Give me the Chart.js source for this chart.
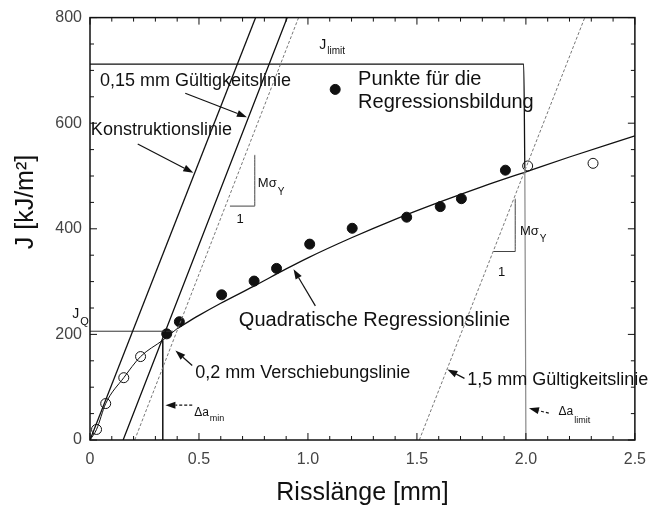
<!DOCTYPE html>
<html>
<head>
<meta charset="utf-8">
<script src="https://cdn.jsdelivr.net/npm/chart.js@4.4.0/dist/chart.umd.min.js"></script>
<style>
  html, body { margin: 0; padding: 0; background: #fff; }
</style>
</head>
<body>
<canvas id="myChart" width="656" height="513"></canvas>
<script>
// measured points (open = not used for regression, filled = used)
const openX = [0.03, 0.072, 0.155, 0.232, 2.008, 2.308];
const openJ = [20, 69, 118, 158, 519, 524];
const fillX = [0.352, 0.41, 0.604, 0.753, 0.856, 1.008, 1.203, 1.453, 1.607, 1.704, 1.906];
const fillJ = [201, 224, 275, 301, 325, 371, 401, 422, 442, 457, 511];

// measured curve up to J_Q, then the quadratic regression line
const startX = [0, 0.03, 0.072, 0.155, 0.232, 0.334, 0.40];
const startJ = [0, 20, 69, 118, 158, 189, 211];
const regX = [0.40, 0.5, 0.6, 0.75, 0.9, 1.0, 1.2, 1.4, 1.6, 1.8, 2.0, 2.2, 2.5];
const regJ = [211, 236, 259, 291, 324, 345, 383, 418, 450, 480, 508, 536, 576];

// construction / validity lines (J = 0 .. 800)
const lineJ = [0, 800];
const konstrX = [0, 0.76];
const g015X = [0.152, 0.905];
const v02X = [0.205, 0.957];
const g15X = [1.511, 2.27];

// limits
const jlimX = [0, 1.99, 1.995];
const jlimJ = [712, 712, 515];
const alimX = [1.995, 2.0];
const alimJ = [515, 0];
const jqX = [0, 0.38];
const jqJ = [206, 206];
const aminX = [0.334, 0.334];
const aminJ = [0, 189];

// slope triangles
const tri1X = [0.642, 0.756, 0.756];
const tri1J = [443, 443, 540];
const tri2X = [1.85, 1.951, 1.951];
const tri2J = [357, 357, 457];

// legend marker
const legX = [1.125];
const legJ = [664];

const xTicks = [0, 0.5, 1.0, 1.5, 2.0, 2.5];
const yTicks = [0, 200, 400, 600, 800];

function pts(xs, ys) { return xs.map((x, i) => ({ x: x, y: ys[i] })); }
function lineDs(xs, ys, color, width, dash) {
    return {
        data: pts(xs, ys), showLine: true, pointRadius: 0, borderColor: color,
        borderWidth: width, borderDash: dash || [], fill: false, tension: 0
    };
}

const FONT = "'Liberation Sans', Arial, sans-serif";

// annotation texts (data coordinates), optional subscript
const labels = [
    { t: '0,15 mm Gültigkeitslinie', x: 0.0456, y: 679, s: 18 },
    { t: 'Konstruktionslinie', x: 0.004, y: 587, s: 18 },
    { t: 'Punkte für die', x: 1.23, y: 683, s: 20 },
    { t: 'Regressionsbildung', x: 1.23, y: 640, s: 20 },
    { t: 'Quadratische Regressionslinie', x: 0.683, y: 226, s: 20 },
    { t: '0,2 mm Verschiebungslinie', x: 0.483, y: 126, s: 18 },
    { t: '1,5 mm Gültigkeitslinie', x: 1.731, y: 113, s: 18 },
    { t: 'J', sub: 'limit', x: 1.052, y: 748, s: 14, ss: 10, dy: 6 },
    { t: 'Mσ', sub: 'Y', x: 0.77, y: 485, s: 13, ss: 10, dy: 8 },
    { t: '1', x: 0.672, y: 418, s: 13 },
    { t: 'Mσ', sub: 'Y', x: 1.973, y: 395, s: 13, ss: 10, dy: 8 },
    { t: '1', x: 1.872, y: 317, s: 13 },
    { t: 'J', sub: 'Q', x: -0.082, y: 239, s: 14, ss: 11, dy: 8 },
    { t: 'Δa', sub: 'min', x: 0.478, y: 51, s: 12, ss: 9, dy: 5 },
    { t: 'Δa', sub: 'limit', x: 2.150, y: 53, s: 12, ss: 9, dy: 8 }
];

// arrows: tail -> head (data coordinates)
const arrows = [
    { x1: 0.437, y1: 656.6, x2: 0.72, y2: 611.5 },
    { x1: 0.219, y1: 560.7, x2: 0.474, y2: 506.1 },
    { x1: 1.034, y1: 254, x2: 0.934, y2: 323.6 },
    { x1: 0.469, y1: 141, x2: 0.392, y2: 169.3 },
    { x1: 0.469, y1: 65.9, x2: 0.346, y2: 65.9, dash: true },
    { x1: 1.718, y1: 116.7, x2: 1.640, y2: 133.6 },
    { x1: 2.105, y1: 50.8, x2: 2.014, y2: 60.2, dash: true }
];

const decor = {
    id: 'decor',
    afterDraw(c) {
        const ctx = c.ctx, ca = c.chartArea;
        const xs = c.scales.x, ys = c.scales.y;
        ctx.save();
        // frame
        ctx.strokeStyle = '#111';
        ctx.lineWidth = 1.5;
        ctx.strokeRect(ca.left, ca.top, ca.right - ca.left, ca.bottom - ca.top);
        // inside ticks
        ctx.lineWidth = 1;
        for (let i = 0; i <= 25; i++) {
            const p = xs.getPixelForValue(i / 10);
            const len = i % 5 === 0 ? 7 : 4;
            ctx.beginPath();
            ctx.moveTo(p, ca.bottom); ctx.lineTo(p, ca.bottom - len);
            ctx.moveTo(p, ca.top); ctx.lineTo(p, ca.top + len);
            ctx.stroke();
        }
        for (let v = 0; v <= 800; v += 50) {
            const p = ys.getPixelForValue(v);
            const len = v % 200 === 0 ? 7 : 4;
            ctx.beginPath();
            ctx.moveTo(ca.left, p); ctx.lineTo(ca.left + len, p);
            ctx.moveTo(ca.right, p); ctx.lineTo(ca.right - len, p);
            ctx.stroke();
        }
        // texts
        ctx.fillStyle = '#111';
        ctx.textBaseline = 'middle';
        ctx.textAlign = 'left';
        labels.forEach(l => {
            const px = xs.getPixelForValue(l.x), py = ys.getPixelForValue(l.y);
            ctx.font = l.s + 'px ' + FONT;
            ctx.fillText(l.t, px, py);
            if (l.sub) {
                const w = ctx.measureText(l.t).width;
                ctx.font = l.ss + 'px ' + FONT;
                ctx.fillText(l.sub, px + w + 1, py + l.dy);
            }
        });
        // arrows
        arrows.forEach(a => {
            const x1 = xs.getPixelForValue(a.x1), y1 = ys.getPixelForValue(a.y1);
            const x2 = xs.getPixelForValue(a.x2), y2 = ys.getPixelForValue(a.y2);
            const ang = Math.atan2(y2 - y1, x2 - x1);
            const hl = 10, hw = 3.5;
            const bx = x2 - hl * Math.cos(ang), by = y2 - hl * Math.sin(ang);
            ctx.strokeStyle = '#111';
            ctx.lineWidth = 1.2;
            ctx.setLineDash(a.dash ? [3, 2] : []);
            ctx.beginPath();
            ctx.moveTo(x1, y1); ctx.lineTo(bx, by);
            ctx.stroke();
            ctx.setLineDash([]);
            ctx.beginPath();
            ctx.moveTo(x2, y2);
            ctx.lineTo(bx + hw * Math.sin(ang), by - hw * Math.cos(ang));
            ctx.lineTo(bx - hw * Math.sin(ang), by + hw * Math.cos(ang));
            ctx.closePath();
            ctx.fill();
        });
        // y axis title
        ctx.font = '25px ' + FONT;
        ctx.textAlign = 'center';
        ctx.translate(26, 202);
        ctx.rotate(-Math.PI / 2);
        ctx.fillText('J [kJ/m²]', 0, 0);
        ctx.restore();
    }
};

const chart = new Chart(document.getElementById('myChart'), {
    type: 'scatter',
    data: {
        datasets: [
            lineDs(konstrX, lineJ, '#111', 1.3),
            lineDs(g015X, lineJ, '#111', 1.3),
            lineDs(v02X, lineJ, '#777', 1, [3, 2]),
            lineDs(g15X, lineJ, '#777', 1, [3, 2]),
            lineDs(jlimX, jlimJ, '#111', 1.3),
            lineDs(alimX, alimJ, '#888', 1.2),
            lineDs(jqX, jqJ, '#333', 1),
            lineDs(aminX, aminJ, '#111', 1.5),
            lineDs(tri1X, tri1J, '#444', 1),
            lineDs(tri2X, tri2J, '#444', 1),
            lineDs(startX, startJ, '#111', 1),
            lineDs(regX, regJ, '#111', 1.3),
            {
                data: pts(openX, openJ), pointRadius: 5, pointBackgroundColor: '#fff',
                pointBorderColor: '#111', pointBorderWidth: 1
            },
            {
                data: pts(fillX, fillJ), pointRadius: 5, pointBackgroundColor: '#111',
                pointBorderColor: '#111', pointBorderWidth: 1
            },
            {
                data: pts(legX, legJ), pointRadius: 5, pointBackgroundColor: '#111',
                pointBorderColor: '#111', pointBorderWidth: 1
            }
        ]
    },
    options: {
        responsive: false,
        animation: false,
        events: [],
        layout: { padding: { left: 0, right: 16, top: 15, bottom: 0 } },
        plugins: { legend: { display: false }, tooltip: { enabled: false } },
        elements: { line: { cubicInterpolationMode: 'monotone' } },
        scales: {
            x: {
                type: 'linear', min: 0, max: 2.5,
                afterBuildTicks: s => { s.ticks = xTicks.map(v => ({ value: v })); },
                afterFit: s => { s.height = 73; },
                grid: { display: false, drawTicks: false },
                border: { display: false },
                ticks: {
                    padding: 10, color: '#444',
                    font: { family: FONT, size: 16 },
                    callback: v => v === 0 ? '0' : v.toFixed(1)
                },
                title: {
                    display: true, text: 'Risslänge [mm]', color: '#111',
                    font: { family: FONT, size: 25 },
                    padding: { top: 0, bottom: 5 }
                }
            },
            y: {
                type: 'linear', min: 0, max: 800,
                afterBuildTicks: s => { s.ticks = yTicks.map(v => ({ value: v })); },
                afterFit: s => { s.width = 90; },
                grid: { display: false, drawTicks: false },
                border: { display: false },
                ticks: {
                    padding: 8, color: '#444',
                    font: { family: FONT, size: 16 }
                }
            }
        }
    },
    plugins: [decor]
});
</script>
</body>
</html>
